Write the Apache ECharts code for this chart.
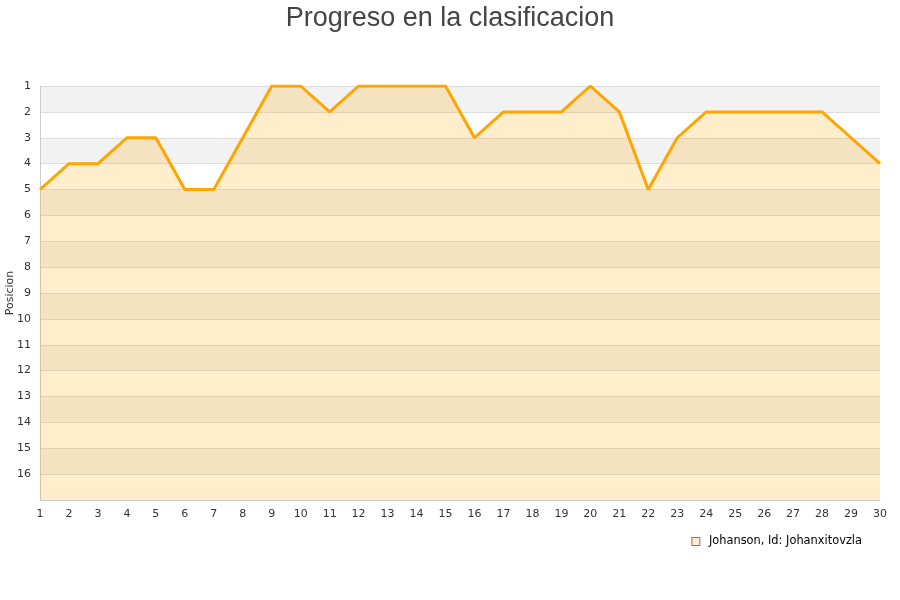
<!DOCTYPE html>
<html><head><meta charset="utf-8">
<script src="https://cdn.jsdelivr.net/npm/echarts@6/dist/echarts.min.js"></script>
<style>html,body{margin:0;padding:0;background:#fff}#c{width:900px;height:600px}</style>
</head><body><div id="c"></div>
<script>
const jornadas = ['1','2','3','4','5','6','7','8','9','10','11','12','13','14','15','16','17','18','19','20','21','22','23','24','25','26','27','28','29','30'];
const posiciones = [5,4,4,3,3,5,5,3,1,1,2,1,1,1,1,3,2,2,2,1,2,5,3,2,2,2,2,2,3,4];
const seriesName = 'Johanson, Id: Johanxitovzla';
const titleText = 'Progreso en la clasificacion';
const yName = 'Posicion';

const chart = echarts.init(document.getElementById('c'), null, {renderer:'canvas'});
chart.setOption({
  animation:false,
  backgroundColor:'#fff',
  title:{text:titleText,left:'center',top:0,textStyle:{fontFamily:'Liberation Sans Narrow, Liberation Sans, sans-serif',fontSize:27,fontWeight:'normal',color:'#444'}},
  legend:{right:33,top:531,itemWidth:8,itemHeight:8,itemGap:6,
    textStyle:{fontFamily:'DejaVu Sans',fontSize:11.4,color:'#000',padding:[0,0,0,4]},
    data:[{name:seriesName,icon:'rect',itemStyle:{color:'#ffeccc',borderColor:'#777',borderWidth:1}}]},
  grid:{left:40,right:20,top:86,bottom:100,containLabel:false,outerBoundsMode:'none'},
  xAxis:{type:'category',data:jornadas,boundaryGap:false,
    axisLine:{lineStyle:{color:'#ccc'}},axisTick:{show:false},
    axisLabel:{fontFamily:'DejaVu Sans',fontSize:11,color:'#333',margin:9},
    splitLine:{show:false}},
  yAxis:{type:'value',inverse:true,min:1,max:17,interval:1,name:yName,nameLocation:'middle',nameGap:24,nameMoveOverlap:false,
    nameTextStyle:{fontFamily:'DejaVu Sans',fontSize:11,color:'#333'},
    axisLine:{show:true,lineStyle:{color:'#ccc'}},axisTick:{show:false},
    axisLabel:{fontFamily:'DejaVu Sans',fontSize:11,color:'#333',margin:9,formatter:v=>v===17?'':String(v)},
    splitLine:{show:true,lineStyle:{color:'#ddd',width:1}},
    splitArea:{show:true,areaStyle:{color:['#f2f2f2','#ffffff']}}},
  series:[{name:seriesName,type:'line',data:posiciones,symbol:'none',
    lineStyle:{color:'#ffa500',width:3},
    itemStyle:{color:'#ffeccc'},
    areaStyle:{color:'rgba(255,165,0,0.2)',opacity:1,origin:'end'}}]
});
</script></body></html>
